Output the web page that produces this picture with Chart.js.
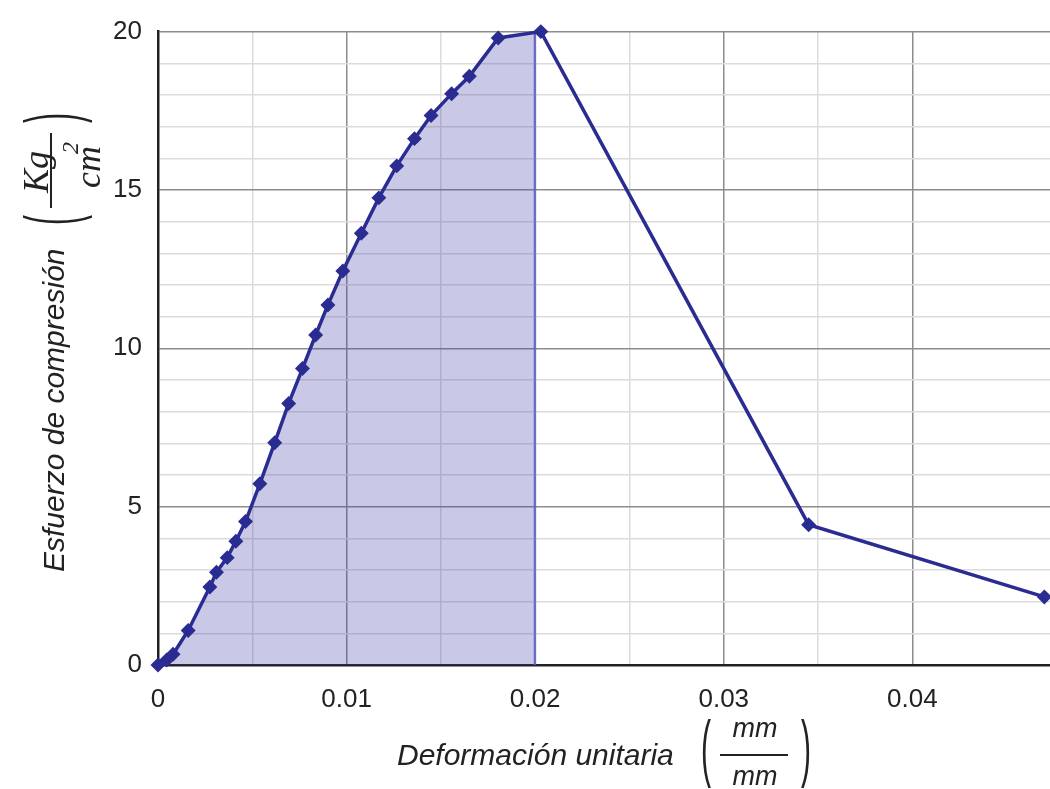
<!DOCTYPE html>
<html>
<head>
<meta charset="utf-8">
<script src="https://cdn.jsdelivr.net/npm/chart.js@4.4.1/dist/chart.umd.min.js"></script>
<style>
  html,body{margin:0;padding:0;background:#fff;}
  #grafico{display:block;}
</style>
</head>
<body>
<canvas id="grafico" width="1050" height="789"></canvas>
<script>
// deformacion unitaria (mm/mm) y esfuerzo (Kg/cm2)
const deformacion=[0,0.00046,0.0008,0.0016,0.00275,0.0031,0.00367,0.00413,0.00464,0.0054,0.00619,0.00693,0.00766,0.00836,0.00901,0.0098,0.01078,0.01171,0.01266,0.0136,0.01448,0.01557,0.01651,0.01804,0.0203,0.0345,0.0470]
const esfuerzo=[0,0.16,0.34,1.09,2.46,2.93,3.39,3.91,4.53,5.72,7.02,8.26,9.36,10.42,11.37,12.44,13.63,14.75,15.76,16.62,17.35,18.04,18.59,19.80,20.0,4.43,2.15]
const etiquetasX=[0,0.01,0.02,0.03,0.04]
const etiquetasY=[0,5,10,15,20]
const finSombreado=0.02

const azul="#2a2c92"
const fuente='"Liberation Sans", Arial, sans-serif'
const serif='"Liberation Serif", "Times New Roman", serif'

function esEtiqueta(lista,v){
    return lista.some(t=>Math.abs(t-v)<1e-9)
}

const puntos=deformacion.map((d,i)=>({x:d,y:esfuerzo[i]}))

const sombreado={
    id:"sombreado",
    beforeDatasetsDraw(chart){
        const {ctx,chartArea,scales}=chart
        const x=scales.x, y=scales.y
        const pts=chart.getDatasetMeta(0).data
        const pico=esfuerzo.indexOf(Math.max(...esfuerzo))
        const xFin=x.getPixelForValue(finSombreado)
        const y0=y.getPixelForValue(0)
        ctx.save()
        ctx.beginPath()
        ctx.rect(chartArea.left,chartArea.top-10,xFin-chartArea.left+1,chartArea.bottom-chartArea.top+10)
        ctx.clip()
        ctx.beginPath()
        ctx.moveTo(x.getPixelForValue(0),y0)
        for(let i=0;i<=pico;i++) ctx.lineTo(pts[i].x,pts[i].y)
        ctx.lineTo(pts[pico].x,y0)
        ctx.closePath()
        ctx.fillStyle="rgba(60,60,170,0.28)"
        ctx.fill()
        ctx.clip()
        ctx.strokeStyle="rgba(100,100,205,0.8)"
        ctx.lineWidth=3
        ctx.beginPath()
        ctx.moveTo(xFin,y0)
        ctx.lineTo(xFin,chartArea.top-10)
        ctx.stroke()
        ctx.restore()
    }
}

function parentesis(ctx,txt,cx,cy){
    ctx.save()
    ctx.translate(cx,cy)
    ctx.scale(1,2.5)
    ctx.font='30px '+fuente
    ctx.textAlign="center"
    ctx.textBaseline="middle"
    ctx.fillText(txt,0,0)
    ctx.restore()
}

const titulos={
    id:"titulos",
    afterDraw(chart){
        const ctx=chart.ctx
        ctx.save()
        ctx.fillStyle="#222"
        ctx.strokeStyle="#222"
        ctx.textBaseline="alphabetic"

        // eje x
        ctx.font="italic 30px "+fuente
        ctx.textAlign="left"
        ctx.fillText("Deformación unitaria",397,765)
        parentesis(ctx,"(",706,752)
        parentesis(ctx,")",806,752)
        ctx.font="italic 27px "+fuente
        ctx.textAlign="center"
        ctx.fillText("mm",755,737)
        ctx.fillText("mm",755,785)
        ctx.lineWidth=2
        ctx.beginPath()
        ctx.moveTo(720,755)
        ctx.lineTo(788,755)
        ctx.stroke()

        // eje y (girado)
        ctx.translate(64,572)
        ctx.rotate(-Math.PI/2)
        ctx.font="italic 30px "+fuente
        ctx.textAlign="left"
        ctx.fillText("Esfuerzo de compresión",0,0)
        parentesis(ctx,"(",352,-8)
        parentesis(ctx,")",454,-8)
        ctx.font="italic 36px "+serif
        ctx.textAlign="center"
        ctx.fillText("Kg",400,-16)
        ctx.fillText("cm",405,36)
        ctx.font="italic 24px "+serif
        ctx.textAlign="left"
        ctx.fillText("2",418,14)
        ctx.lineWidth=2
        ctx.beginPath()
        ctx.moveTo(364,-13)
        ctx.lineTo(439,-13)
        ctx.stroke()
        ctx.restore()
    }
}

const colorRejilla=(lista)=>(c)=>esEtiqueta(lista,c.tick.value)?"#8c8c8c":"#dcdcdc"

const config={
    type:"scatter",
    data:{
        datasets:[{
            data:puntos,
            showLine:true,
            borderColor:azul,
            borderWidth:3.5,
            pointStyle:"rectRot",
            pointRadius:5,
            pointBackgroundColor:azul,
            pointBorderColor:azul,
            clip:false
        }]
    },
    options:{
        responsive:false,
        animation:false,
        layout:{autoPadding:false,padding:{top:22,left:0,right:0,bottom:0}},
        plugins:{legend:{display:false},tooltip:{enabled:false}},
        scales:{
            x:{
                type:"linear",
                min:0,
                max:0.0473,
                afterBuildTicks:(s)=>{
                    s.ticks=s.ticks.filter(t=>Math.abs(t.value/0.005-Math.round(t.value/0.005))<1e-6)
                },
                afterFit:(s)=>{s.height=124},
                ticks:{
                    stepSize:0.005,
                    autoSkip:false,
                    maxRotation:0,
                    padding:19,
                    color:"#222",
                    font:{family:fuente,size:26},
                    callback:(v)=>esEtiqueta(etiquetasX,v)?String(Math.round(v*100)/100):""
                },
                grid:{color:colorRejilla(etiquetasX),lineWidth:1.5,drawTicks:false},
                border:{color:"#222",width:2.5}
            },
            y:{
                type:"linear",
                min:0,
                max:20,
                afterFit:(s)=>{s.width=158},
                ticks:{
                    stepSize:1,
                    autoSkip:false,
                    padding:16,
                    color:"#222",
                    font:{family:fuente,size:26},
                    callback:(v)=>esEtiqueta(etiquetasY,v)?String(v):""
                },
                grid:{color:colorRejilla(etiquetasY),lineWidth:1.5,drawTicks:false},
                border:{color:"#222",width:2.5}
            }
        }
    },
    plugins:[sombreado,titulos]
}

new Chart(document.querySelector("#grafico"),config)
</script>
</body>
</html>
